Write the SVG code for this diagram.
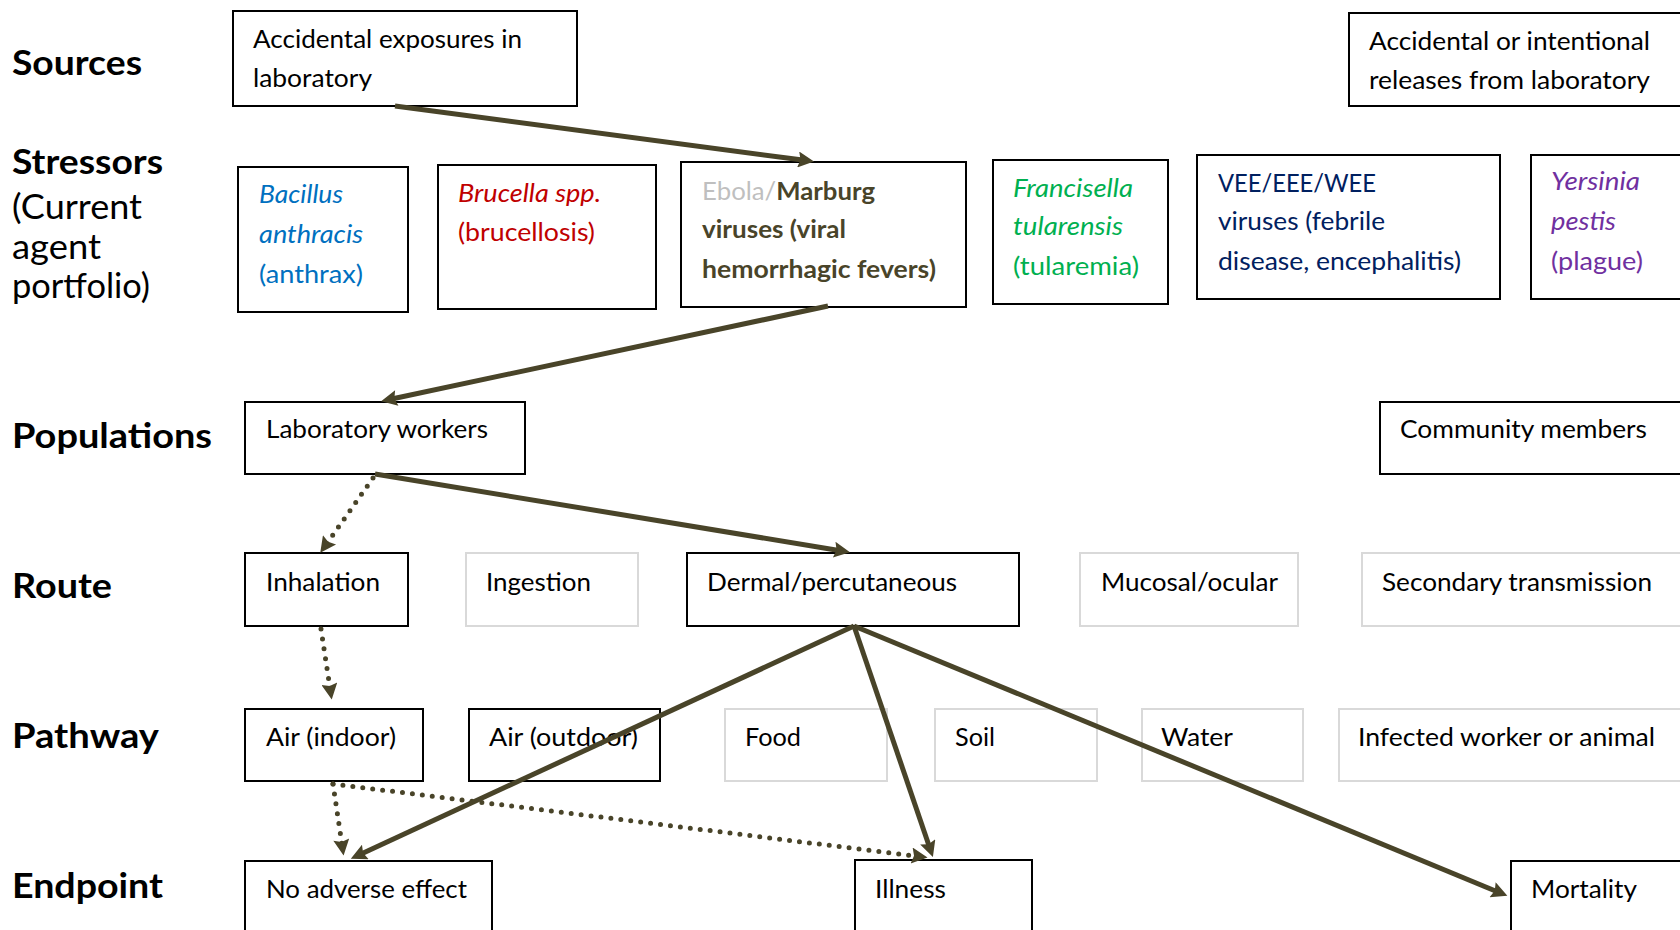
<svg xmlns="http://www.w3.org/2000/svg" width="1680" height="930" viewBox="0 0 1680 930">
  <style>
    text { font-family: Lato, "Open Sans", "Liberation Sans", sans-serif; font-size: 25px; fill: #000; }
    .row { font-size: 35px; font-weight: bold; }
    .rowr { font-size: 35px; }
    .box { fill: #fff; stroke: #000; stroke-width: 2; }
    .gbox { fill: #fff; stroke: #d9d9d9; stroke-width: 2; }
    .it { font-style: italic; }
    .blue { fill: #0070c0; }
    .red { fill: #c00000; }
    .olive { fill: #494429; font-weight: bold; }
    .grey { fill: #bfbfbf; }
    .green { fill: #00b050; }
    .navy { fill: #002060; }
    .purple { fill: #7030a0; }
    .solid { fill: none; stroke: #494429; stroke-width: 5; marker-end: url(#head); }
    .dot { fill: none; stroke: #494429; stroke-width: 5; stroke-linecap: round; stroke-dasharray: 0 10; marker-end: url(#head); }
  </style>
  <defs>
    <marker id="head" viewBox="0 0 10 10" markerUnits="userSpaceOnUse" markerWidth="21" markerHeight="16" refX="4" refY="5" orient="auto">
      <path d="M0,0 L10,5 L0,10 L1.5,5 z" fill="#494429"/>
    </marker>
  </defs>
  <rect width="1680" height="930" fill="#fff"/>

  <!-- row headings -->
  <g id="row-labels">
    <text class="row" x="12" y="75" textLength="130" lengthAdjust="spacingAndGlyphs">Sources</text>
    <text class="row" x="12" y="174" textLength="151" lengthAdjust="spacingAndGlyphs">Stressors</text>
    <text class="rowr" x="12" y="219" textLength="130" lengthAdjust="spacingAndGlyphs">(Current</text>
    <text class="rowr" x="12" y="259" textLength="89" lengthAdjust="spacingAndGlyphs">agent</text>
    <text class="rowr" x="12" y="298" textLength="138" lengthAdjust="spacingAndGlyphs">portfolio)</text>
    <text class="row" x="12" y="448" textLength="200" lengthAdjust="spacingAndGlyphs">Populations</text>
    <text class="row" x="12" y="598" textLength="100" lengthAdjust="spacingAndGlyphs">Route</text>
    <text class="row" x="12" y="748" textLength="147" lengthAdjust="spacingAndGlyphs">Pathway</text>
    <text class="row" x="12" y="898" textLength="151" lengthAdjust="spacingAndGlyphs">Endpoint</text>
  </g>

  <!-- sources -->
  <g id="src-lab-exposure">
    <rect class="box" x="233" y="11" width="344" height="95"/>
    <text x="253" y="48" textLength="269" lengthAdjust="spacingAndGlyphs">Accidental exposures in</text>
    <text x="253" y="87" textLength="119" lengthAdjust="spacingAndGlyphs">laboratory</text>
  </g>
  <g id="src-lab-release">
    <rect class="box" x="1349" y="13" width="345" height="93"/>
    <text x="1369" y="50" textLength="281" lengthAdjust="spacingAndGlyphs">Accidental or intentional</text>
    <text x="1369" y="89" textLength="281" lengthAdjust="spacingAndGlyphs">releases from laboratory</text>
  </g>

  <!-- stressors -->
  <g id="agent-bacillus">
    <rect class="box" x="238" y="167" width="170" height="145"/>
    <text class="it blue" x="259" y="203" textLength="84" lengthAdjust="spacingAndGlyphs">Bacillus</text>
    <text class="it blue" x="259" y="243" textLength="104" lengthAdjust="spacingAndGlyphs">anthracis</text>
    <text class="blue" x="259" y="283" textLength="104" lengthAdjust="spacingAndGlyphs">(anthrax)</text>
  </g>
  <g id="agent-brucella">
    <rect class="box" x="438" y="165" width="218" height="144"/>
    <text class="it red" x="458" y="202" textLength="143" lengthAdjust="spacingAndGlyphs">Brucella spp.</text>
    <text class="red" x="458" y="241" textLength="137" lengthAdjust="spacingAndGlyphs">(brucellosis)</text>
  </g>
  <g id="agent-filovirus">
    <rect class="box" x="681" y="162" width="285" height="145"/>
    <text x="702" y="200" textLength="173" lengthAdjust="spacingAndGlyphs"><tspan class="grey">Ebola/</tspan><tspan class="olive">Marburg</tspan></text>
    <text class="olive" x="702" y="238" textLength="144" lengthAdjust="spacingAndGlyphs">viruses (viral</text>
    <text class="olive" x="702" y="278" textLength="234" lengthAdjust="spacingAndGlyphs">hemorrhagic fevers)</text>
  </g>
  <g id="agent-francisella">
    <rect class="box" x="993" y="160" width="175" height="144"/>
    <text class="it green" x="1013" y="197" textLength="120" lengthAdjust="spacingAndGlyphs">Francisella</text>
    <text class="it green" x="1013" y="235" textLength="110" lengthAdjust="spacingAndGlyphs">tularensis</text>
    <text class="green" x="1013" y="275" textLength="126" lengthAdjust="spacingAndGlyphs">(tularemia)</text>
  </g>
  <g id="agent-equine-encephalitis">
    <rect class="box" x="1197" y="155" width="303" height="144"/>
    <text class="navy" x="1218" y="192" textLength="158" lengthAdjust="spacingAndGlyphs">VEE/EEE/WEE</text>
    <text class="navy" x="1218" y="230" textLength="167" lengthAdjust="spacingAndGlyphs">viruses (febrile</text>
    <text class="navy" x="1218" y="270" textLength="243" lengthAdjust="spacingAndGlyphs">disease, encephalitis)</text>
  </g>
  <g id="agent-yersinia">
    <rect class="box" x="1531" y="155" width="160" height="144"/>
    <text class="it purple" x="1551" y="190" textLength="89" lengthAdjust="spacingAndGlyphs">Yersinia</text>
    <text class="it purple" x="1551" y="230" textLength="65" lengthAdjust="spacingAndGlyphs">pestis</text>
    <text class="purple" x="1551" y="270" textLength="92" lengthAdjust="spacingAndGlyphs">(plague)</text>
  </g>

  <!-- populations -->
  <g id="pop-lab-workers">
    <rect class="box" x="245" y="402" width="280" height="72"/>
    <text x="266" y="438" textLength="222" lengthAdjust="spacingAndGlyphs">Laboratory workers</text>
  </g>
  <g id="pop-community">
    <rect class="box" x="1380" y="402" width="310" height="72"/>
    <text x="1400" y="438" textLength="247" lengthAdjust="spacingAndGlyphs">Community members</text>
  </g>

  <!-- routes -->
  <g id="route-inhalation">
    <rect class="box" x="245" y="553" width="163" height="73"/>
    <text x="266" y="591" textLength="114" lengthAdjust="spacingAndGlyphs">Inhalation</text>
  </g>
  <g id="route-ingestion">
    <rect class="gbox" x="466" y="553" width="172" height="73"/>
    <text x="486" y="591" textLength="105" lengthAdjust="spacingAndGlyphs">Ingestion</text>
  </g>
  <g id="route-dermal">
    <rect class="box" x="687" y="553" width="332" height="73"/>
    <text x="707" y="591" textLength="250" lengthAdjust="spacingAndGlyphs">Dermal/percutaneous</text>
  </g>
  <g id="route-mucosal">
    <rect class="gbox" x="1080" y="553" width="218" height="73"/>
    <text x="1101" y="591" textLength="177" lengthAdjust="spacingAndGlyphs">Mucosal/ocular</text>
  </g>
  <g id="route-secondary">
    <rect class="gbox" x="1362" y="553" width="330" height="73"/>
    <text x="1382" y="591" textLength="270" lengthAdjust="spacingAndGlyphs">Secondary transmission</text>
  </g>

  <!-- pathways -->
  <g id="path-air-indoor">
    <rect class="box" x="245" y="709" width="178" height="72"/>
    <text x="266" y="746" textLength="130" lengthAdjust="spacingAndGlyphs">Air (indoor)</text>
  </g>
  <g id="path-air-outdoor">
    <rect class="box" x="469" y="709" width="191" height="72"/>
    <text x="489" y="746" textLength="149" lengthAdjust="spacingAndGlyphs">Air (outdoor)</text>
  </g>
  <g id="path-food">
    <rect class="gbox" x="725" y="709" width="162" height="72"/>
    <text x="745" y="746" textLength="56" lengthAdjust="spacingAndGlyphs">Food</text>
  </g>
  <g id="path-soil">
    <rect class="gbox" x="935" y="709" width="162" height="72"/>
    <text x="955" y="746" textLength="40" lengthAdjust="spacingAndGlyphs">Soil</text>
  </g>
  <g id="path-water">
    <rect class="gbox" x="1142" y="709" width="161" height="72"/>
    <text x="1161" y="746" textLength="72" lengthAdjust="spacingAndGlyphs">Water</text>
  </g>
  <g id="path-infected">
    <rect class="gbox" x="1339" y="709" width="352" height="72"/>
    <text x="1358" y="746" textLength="297" lengthAdjust="spacingAndGlyphs">Infected worker or animal</text>
  </g>

  <!-- endpoints -->
  <g id="end-no-effect">
    <rect class="box" x="245" y="861" width="247" height="80"/>
    <text x="266" y="898" textLength="201" lengthAdjust="spacingAndGlyphs">No adverse effect</text>
  </g>
  <g id="end-illness">
    <rect class="box" x="855" y="860" width="177" height="80"/>
    <text x="875" y="898" textLength="71" lengthAdjust="spacingAndGlyphs">Illness</text>
  </g>
  <g id="end-mortality">
    <rect class="box" x="1511" y="861" width="180" height="80"/>
    <text x="1531" y="898" textLength="106" lengthAdjust="spacingAndGlyphs">Mortality</text>
  </g>

  <!-- connectors: dotted links first, solid links drawn over them -->
  <g id="connectors">
    <path class="dot" d="M373,478 L325.8,545"/>
    <path class="dot" d="M321,629 L330.3,690"/>
    <path class="dot" d="M333,784 L342.2,846"/>
    <path class="dot" d="M333,784 L918,856.3"/>
    <path class="solid" d="M395,106 L804.5,160.3"/>
    <path class="solid" d="M828,306 L390.5,399.3"/>
    <path class="solid" d="M375,474 L840.5,550.7"/>
    <path class="solid" d="M854,626 L359.5,854.7"/>
    <path class="solid" d="M854,626 L929.8,848"/>
    <path class="solid" d="M854,626 L1498.5,892.2"/>
  </g>
</svg>
